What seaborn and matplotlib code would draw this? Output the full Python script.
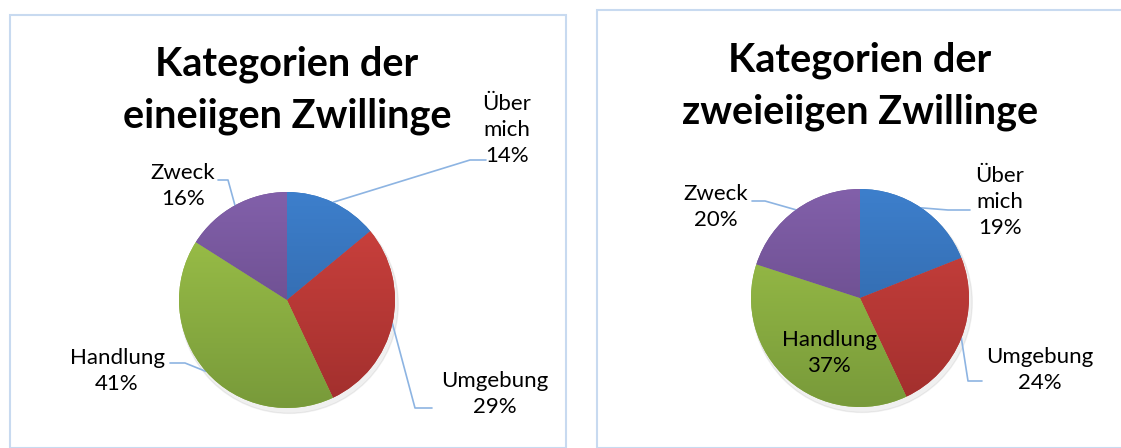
import numpy as np
import matplotlib
matplotlib.use('Agg')
import matplotlib.pyplot as plt
from matplotlib.patches import Rectangle
from matplotlib.colors import LinearSegmentedColormap
import seaborn as sns

# Daten
kategorien = ['Über\nmich', 'Umgebung', 'Handlung', 'Zweck']
eineiig = [14, 29, 41, 16]
zweieiig = [19, 24, 37, 20]
titel_links = 'Kategorien der\neineiigen Zwillinge'
titel_rechts = 'Kategorien der\nzweieiigen Zwillinge'

# Farben (oben hell -> unten dunkel)
farben_oben = ['#3D7FCC', '#D0433F', '#A0C54A', '#8260AA']
farben_unten = ['#2D5F9C', '#A12F2D', '#789A3A', '#5E437E']
farben_mitte = ['#3570B4', '#B93A37', '#8DB042', '#705294']

sns.set_theme(style='white')
plt.rcParams['font.family'] = ['Lato', 'DejaVu Sans']

W, H = 1121, 448
fig = plt.figure(figsize=(W / 100, H / 100), dpi=100)
fig.patch.set_facecolor('white')

# Rahmen der beiden Diagramme
fig.patches.append(Rectangle((10 / W, 0), 556 / W, (H - 15) / H, transform=fig.transFigure,
                             fill=False, edgecolor='#C8DAF0', linewidth=1.5))
fig.patches.append(Rectangle((597 / W, 0), 540 / W, (H - 10) / H, transform=fig.transFigure,
                             fill=False, edgecolor='#C8DAF0', linewidth=1.5))


def zeichne_pie(panel, cx, cy, r, werte, titel, title_y, labels_cfg):
    # panel = (x0, y0_top, x1, y1_bottom) in Pixeln
    x0, yt, x1, yb = panel
    ax = fig.add_axes([x0 / W, (H - yb) / H, (x1 - x0) / W, (yb - yt) / H])
    wedges, _ = ax.pie(werte, startangle=90, counterclock=False,
                       colors=farben_mitte, radius=1,
                       wedgeprops=dict(linewidth=0))
    # leichter Schatten
    sh = plt.Circle((0.02, -0.04), 1.01, color='#000000', alpha=0.06, zorder=0)
    ax.add_patch(sh)
    # Farbverlauf je Segment
    for w, c1, c2 in zip(wedges, farben_oben, farben_unten):
        cmap = LinearSegmentedColormap.from_list('g', [c1, c2])
        grad = np.linspace(0, 1, 256).reshape(-1, 1)
        im = ax.imshow(grad, cmap=cmap, extent=(-1, 1, -1, 1), origin='upper',
                       aspect='auto', zorder=2)
        im.set_clip_path(w)
    ax.set_xlim((x0 - cx) / r, (x1 - cx) / r)
    ax.set_ylim((cy - yb) / r, (cy - yt) / r)
    ax.set_aspect('auto')
    ax.axis('off')

    def d(px, py):
        return (px - cx) / r, (cy - py) / r

    tx, ty = d(cx, title_y)
    ax.text(tx, ty, titel, ha='center', va='center', fontsize=28.5,
            fontweight='bold', color='black', linespacing=1.5)

    for w, wert, name, cfg in zip(wedges, werte, kategorien, labels_cfg):
        lx, ly = d(*cfg['text'])
        ax.text(lx, ly, f'{name}\n{wert}%', ha='center', va='center',
                fontsize=16, color='black', linespacing=1.4, zorder=5)
        if cfg.get('leader') is None:
            continue
        mid = np.deg2rad((w.theta1 + w.theta2) / 2)
        pts = [(np.cos(mid), np.sin(mid))] + [d(*p) for p in cfg['leader']]
        xs, ys = zip(*pts)
        ax.plot(xs, ys, color='#8DB4E2', linewidth=1.2, zorder=1)
    return ax


links_cfg = [
    dict(text=(507, 130), leader=[(470, 160), (486, 160)]),
    dict(text=(495, 394), leader=[(415, 408), (432, 408)]),
    dict(text=(117, 371), leader=[(185, 363), (170, 363)]),
    dict(text=(183, 186), leader=[(228, 180), (218, 180)]),
]
rechts_cfg = [
    dict(text=(1000, 202), leader=[(948, 210), (970, 210)]),
    dict(text=(1040, 370), leader=[(968, 381), (982, 381)]),
    dict(text=(829, 353), leader=None),
    dict(text=(716, 207), leader=[(765, 201), (752, 201)]),
]

zeichne_pie((10, 15, 566, 448), 287, 300, 108, eineiig, titel_links, 90, links_cfg)
zeichne_pie((597, 10, 1121, 448), 860, 298, 109, zweieiig, titel_rechts, 86, rechts_cfg)

plt.savefig('out.png', dpi=100, facecolor='white')
plt.close()
